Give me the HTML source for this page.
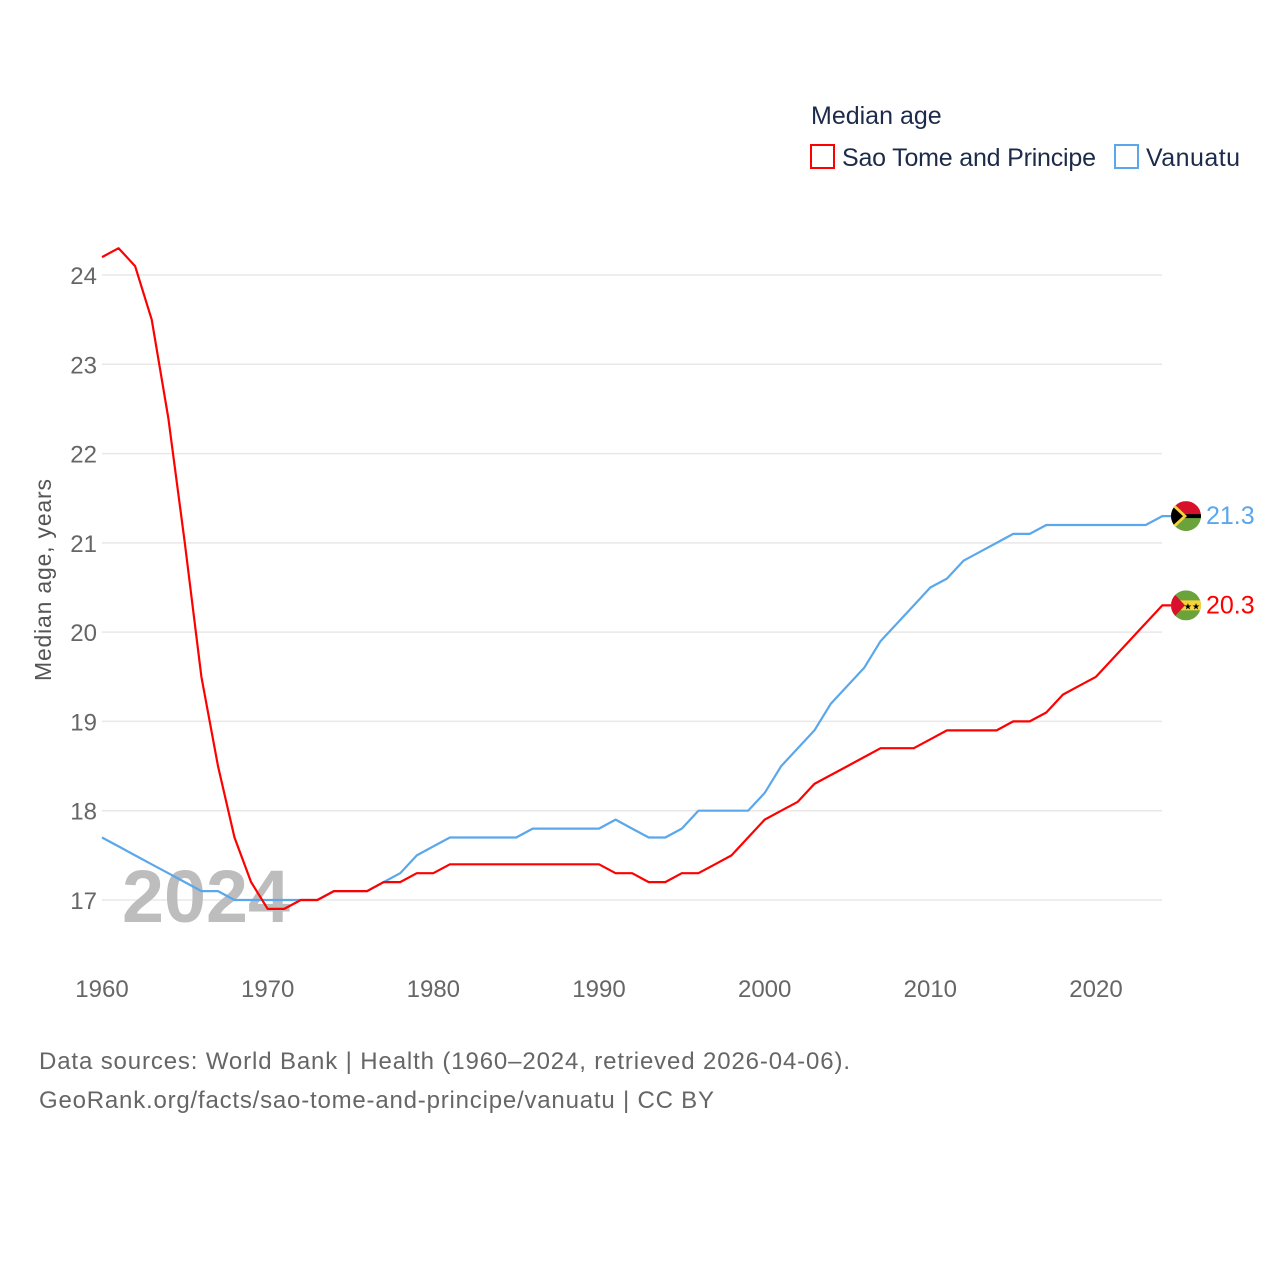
<!DOCTYPE html>
<html><head><meta charset="utf-8"><style>
body{margin:0;background:#fff;width:1280px;height:1280px;overflow:hidden;font-family:"Liberation Sans",sans-serif}
svg text{font-family:"Liberation Sans",sans-serif}
</style></head><body>
<svg id="chart" width="1280" height="1280" xmlns="http://www.w3.org/2000/svg">
<text x="811" y="124" font-size="25" fill="#1d2b4a">Median age</text>
<g><rect x="811" y="145" width="23" height="23" fill="none" stroke="#ff0000" stroke-width="2"/><text x="842" y="166" font-size="25" fill="#1d2b4a" textLength="254">Sao Tome and Principe</text></g>
<g><rect x="1115" y="145" width="23" height="23" fill="none" stroke="#5ba7eb" stroke-width="2"/><text x="1146" y="166" font-size="25" fill="#1d2b4a" textLength="94">Vanuatu</text></g>
<g id="grid"></g>
<text x="122" y="922" font-size="74" font-weight="bold" fill="#bdbdbd" textLength="168" lengthAdjust="spacingAndGlyphs">2024</text>
<g id="series"></g>
<text transform="translate(51,580) rotate(-90)" text-anchor="middle" font-size="23" fill="#555" textLength="202">Median age, years</text>
<text x="39" y="1069" font-size="24" fill="#666" textLength="811">Data sources: World Bank | Health (1960–2024, retrieved 2026-04-06).</text>
<text x="39" y="1108" font-size="24" fill="#666" textLength="675">GeoRank.org/facts/sao-tome-and-principe/vanuatu | CC BY</text>
</svg>
<script>
const years=[];for(let y=1960;y<=2024;y++)years.push(y);
const stpValues=[24.2,24.3,24.1,23.5,22.4,21.0,19.5,18.5,17.7,17.2,16.9,16.9,17.0,17.0,17.1,17.1,17.1,17.2,17.2,17.3,17.3,17.4,17.4,17.4,17.4,17.4,17.4,17.4,17.4,17.4,17.4,17.3,17.3,17.2,17.2,17.3,17.3,17.4,17.5,17.7,17.9,18.0,18.1,18.3,18.4,18.5,18.6,18.7,18.7,18.7,18.8,18.9,18.9,18.9,18.9,19.0,19.0,19.1,19.3,19.4,19.5,19.7,19.9,20.1,20.3];
const vutValues=[17.7,17.6,17.5,17.4,17.3,17.2,17.1,17.1,17.0,17.0,17.0,17.0,17.0,17.0,17.1,17.1,17.1,17.2,17.3,17.5,17.6,17.7,17.7,17.7,17.7,17.7,17.8,17.8,17.8,17.8,17.8,17.9,17.8,17.7,17.7,17.8,18.0,18.0,18.0,18.0,18.2,18.5,18.7,18.9,19.2,19.4,19.6,19.9,20.1,20.3,20.5,20.6,20.8,20.9,21.0,21.1,21.1,21.2,21.2,21.2,21.2,21.2,21.2,21.2,21.3];
const yTicks=[17,18,19,20,21,22,23,24];
const xTicks=[1960,1970,1980,1990,2000,2010,2020];
const NS='http://www.w3.org/2000/svg';
const xs=y=>102+(y-1960)*(1096-102)/60;
const ys=v=>900-(v-17)*(900-275)/7;
const grid=document.getElementById('grid'),ser=document.getElementById('series');
function mk(tag,attrs,parent){const e=document.createElementNS(NS,tag);for(const k in attrs)e.setAttribute(k,attrs[k]);parent.appendChild(e);return e;}
yTicks.forEach(v=>{
 const l=mk('line',{x1:102,x2:1162,y1:ys(v),y2:ys(v),stroke:'#e8e8e8','stroke-width':1.5},grid);
 
 
 const t=mk('text',{x:97,y:ys(v)+9,'text-anchor':'end','font-size':24,fill:'#666'},grid);t.textContent=v;
 
 
});
xTicks.forEach(y=>{
 const t=mk('text',{x:xs(y),y:997,'text-anchor':'middle','font-size':24,fill:'#666'},grid);t.textContent=y;
 
 
});
function series(vals,color,name,flag){
 const d=vals.map((v,i)=>(i?'L':'M')+xs(years[i]).toFixed(1)+','+ys(v).toFixed(1)).join('')+'H1172';
 const p=mk('path',{d:d,fill:'none',stroke:color,'stroke-width':2.2,'stroke-linejoin':'round'},ser);
 
 
 const last=vals[vals.length-1],cy=ys(last);
 const g=mk('g',{},ser);
 
 
 g.innerHTML=flag(1186,cy);
 const t=mk('text',{x:1206,y:cy+8,'font-size':25,fill:color},ser);t.textContent=last.toFixed(1);
 
 
}
const stpFlag=(x,y)=>`<clipPath id="c1"><circle cx="${x}" cy="${y}" r="15"/></clipPath><g clip-path="url(#c1)"><rect x="${x-15}" y="${y-15}" width="30" height="30" fill="#6aa23c"/><rect x="${x-15}" y="${y-5}" width="30" height="10" fill="#f5d33a"/><polygon points="${x-15},${y-15} ${x-1},${y} ${x-15},${y+15}" fill="#d9102c"/><text x="${x+6}" y="${y+4}" font-size="9" text-anchor="middle">★★</text></g>`;
const vutFlag=(x,y)=>`<clipPath id="c2"><circle cx="${x}" cy="${y}" r="15"/></clipPath><g clip-path="url(#c2)"><rect x="${x-15}" y="${y-15}" width="30" height="15" fill="#d9102c"/><rect x="${x-15}" y="${y}" width="30" height="15" fill="#6aa23c"/><rect x="${x-15}" y="${y-2}" width="30" height="4" fill="#000"/><polygon points="${x-15},${y-15} ${x+1},${y} ${x-15},${y+15}" fill="#f5d33a"/><polygon points="${x-15},${y-11} ${x-3},${y} ${x-15},${y+11}" fill="#000"/></g>`;
series(vutValues,'#5ba7eb','vanuatu',vutFlag);
series(stpValues,'#ff0000','sao-tome',stpFlag);
</script>
</body></html>
